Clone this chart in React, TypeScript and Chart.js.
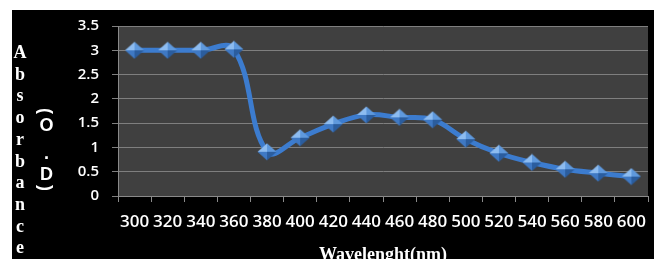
import { useEffect, useRef } from 'react';
import { Chart, registerables } from 'chart.js';

Chart.register(...registerables);

const wavelengths = ['300', '320', '340', '360', '380', '400', '420', '440', '460', '480', '500', '520', '540', '560', '580', '600'];
const absorbance = [3.0, 3.0, 3.0, 3.02, 0.91, 1.2, 1.48, 1.67, 1.62, 1.57, 1.17, 0.88, 0.69, 0.55, 0.47, 0.4];
const yMin = 0;
const yMax = 3.5;
const yStep = 0.5;
const xTitle = 'Wavelenght(nm)';
const yTitleMain = 'Absorbance';
const yTitleUnit = '(O.D)';

function makeDiamond(): HTMLCanvasElement {
  const m = document.createElement('canvas');
  m.width = 20;
  m.height = 18;
  const c = m.getContext('2d')!;
  const cx = 10, cy = 9, hw = 9.5, hh = 8.5;
  const face = (pts: number[][], col: string) => {
    c.beginPath();
    c.moveTo(pts[0][0], pts[0][1]);
    for (let i = 1; i < pts.length; i++) c.lineTo(pts[i][0], pts[i][1]);
    c.closePath();
    c.fillStyle = col;
    c.fill();
  };
  face([[cx - hw, cy], [cx, cy - hh], [cx, cy]], '#8dbcf0');
  face([[cx, cy - hh], [cx + hw, cy], [cx, cy]], '#5f99dd');
  face([[cx - hw, cy], [cx, cy + hh], [cx, cy]], '#3f79c4');
  face([[cx + hw, cy], [cx, cy + hh], [cx, cy]], '#2b5d9e');
  return m;
}

const plotBg = {
  id: 'plotBg',
  beforeDraw(chart: any) {
    const { ctx, chartArea } = chart;
    ctx.save();
    ctx.fillStyle = '#404040';
    ctx.fillRect(chartArea.left, chartArea.top, chartArea.right - chartArea.left, chartArea.bottom - chartArea.top);
    ctx.restore();
  },
};

const yTitles = {
  id: 'yTitles',
  afterDraw(chart: any) {
    const ctx = chart.ctx as CanvasRenderingContext2D;
    ctx.save();
    ctx.fillStyle = '#ffffff';
    ctx.textAlign = 'center';
    ctx.textBaseline = 'alphabetic';
    ctx.font = 'bold 18px "Liberation Serif"';
    const letters = yTitleMain.split('');
    letters.forEach((ch, i) => {
      ctx.fillText(ch, 8, 48 + i * 21.7);
    });
    ctx.font = 'bold 18px "Liberation Sans"';
    ctx.textBaseline = 'middle';
    const chars = yTitleUnit.split('');
    const ys = [101, 116, 144, 165, 178];
    chars.forEach((ch, i) => {
      if (ch === '(' || ch === ')') {
        ctx.save();
        ctx.translate(33, ys[i]);
        ctx.rotate(Math.PI / 2);
        ctx.fillText(ch, 0, 0);
        ctx.restore();
      } else {
        ctx.fillText(ch, 34.5, ys[i]);
      }
    });
    ctx.restore();
  },
};

export default function App() {
  const ref = useRef<HTMLCanvasElement>(null);
  useEffect(() => {
    const diamond = makeDiamond();
    const chart = new Chart(ref.current!, {
      type: 'line',
      data: {
        labels: wavelengths,
        datasets: [
          {
            data: absorbance,
            borderColor: '#3c7ccf',
            borderWidth: 5,
            tension: 0.4,
            pointStyle: diamond as any,
            pointRadius: 9,
            pointHoverRadius: 9,
            fill: false,
          },
        ],
      },
      options: {
        animation: false,
        responsive: false,
        layout: { padding: { top: 16, right: 4, left: 0, bottom: 0 } },
        plugins: { legend: { display: false }, tooltip: { enabled: false } },
        scales: {
          x: {
            type: 'category',
            offset: true,
            afterFit: (s: any) => { s.height = 70; },
            grid: {
              display: true,
              drawOnChartArea: false,
              drawTicks: true,
              tickLength: 6,
              offset: true,
              color: '#8a8a8a',
              tickColor: '#8a8a8a',
            },
            border: { display: true, color: '#8a8a8a' },
            ticks: {
              color: '#ffffff',
              padding: 10,
              maxRotation: 0,
              autoSkip: false,
              font: { family: '"Open Sans"', size: 17, weight: '600' as any },
            },
            title: {
              display: true,
              text: xTitle,
              color: '#ffffff',
              padding: 0,
              font: { family: '"Liberation Serif"', size: 18, weight: 'bold' },
            },
          },
          y: {
            min: yMin,
            max: yMax,
            afterFit: (s: any) => {
              s.width = 106;
              s.paddingTop = 0;
              s.paddingBottom = 0;
            },
            grid: {
              color: '#7f7f7f',
              tickColor: '#7f7f7f',
              drawTicks: true,
              tickLength: 6,
            },
            border: { display: true, color: '#8a8a8a' },
            ticks: {
              stepSize: yStep,
              color: '#ffffff',
              padding: 13,
              callback: (v: any) => String(Number(v)),
              font: { family: '"Open Sans"', size: 15, weight: '600' as any },
            },
          },
        },
      },
      plugins: [plotBg, yTitles],
    });
    return () => chart.destroy();
  }, []);
  return (
    <div style={{ position: 'absolute', left: 0, top: 0, width: 654, height: 259, overflow: 'hidden', background: '#ffffff' }}>
      <canvas
        ref={ref}
        width={650}
        height={256}
        style={{ position: 'absolute', left: 12, top: 10, width: 650, height: 256, background: '#000000' }}
      />
    </div>
  );
}
